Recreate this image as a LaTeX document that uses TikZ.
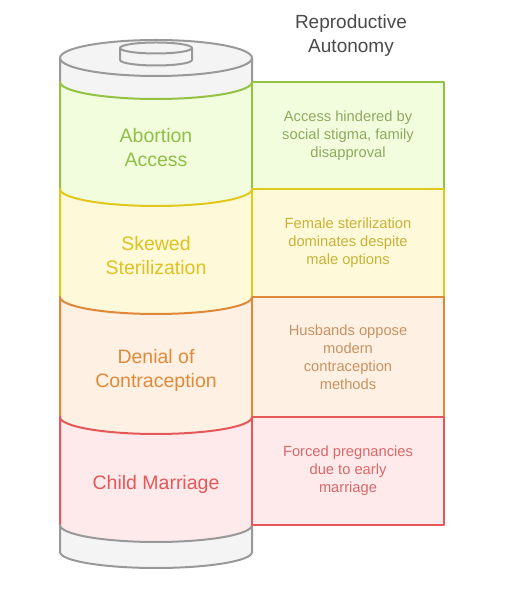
\documentclass[tikz,border=0pt]{standalone}
\usepackage{fontspec}
\setmainfont{Liberation Sans}
\definecolor{gS}{HTML}{94C244}\definecolor{gF}{HTML}{F2FDDE}\definecolor{gT}{HTML}{90BF45}\definecolor{gB}{HTML}{8EAA5D}
\definecolor{yS}{HTML}{E0C81C}\definecolor{yF}{HTML}{FEF9D8}\definecolor{yT}{HTML}{DCC222}\definecolor{yB}{HTML}{C9B23A}
\definecolor{oS}{HTML}{E0883A}\definecolor{oF}{HTML}{FEF0E2}\definecolor{oT}{HTML}{E08A3C}\definecolor{oB}{HTML}{C99262}
\definecolor{rS}{HTML}{E6575A}\definecolor{rF}{HTML}{FEEAEA}\definecolor{rT}{HTML}{E4585B}\definecolor{rB}{HTML}{D8686A}
\definecolor{cS}{HTML}{999999}\definecolor{cF}{HTML}{F4F4F4}\definecolor{tT}{HTML}{4A4A4A}
\begin{document}
\begin{tikzpicture}[x=1pt,y=1pt,line width=2pt,line join=round,
  lbl/.style={align=center,font=\fontsize{19.5}{24}\selectfont},
  btxt/.style={align=center,font=\fontsize{14.7}{18}\selectfont}]
\useasboundingbox (0,0) rectangle (504,593);
% top cap
\fill[cF] (60,535) -- (60,511) arc(180:360:96 and 17) -- (252,535) arc(0:180:96 and 18) -- cycle;
\draw[cS] (60,511) -- (60,535) arc(180:540:96 and 18) (252,535) -- (252,511);
% terminal
\fill[cF] (120,545) -- (120,533) arc(180:360:36 and 5.5) -- (192,545) arc(0:180:36 and 5.5) -- cycle;
\draw[cS] (120,533) -- (120,545) arc(180:540:36 and 5.5) (192,545) -- (192,533) arc(360:180:36 and 5.5);
% layers
\foreach \yt/\yb/\fc/\sc in {511/404/gF/gS,404/296/yF/yS,296/176/oF/oS,176/68/rF/rS}{
  \fill[\fc] (60,\yt) arc(180:360:96 and 17) -- (252,\yb) arc(360:180:96 and 17) -- cycle;
  \draw[\sc] (60,\yb) -- (60,\yt) arc(180:360:96 and 17) -- (252,\yb);
}
% bottom cap
\fill[cF] (60,68) arc(180:360:96 and 17) -- (252,41) arc(360:180:96 and 16) -- cycle;
\draw[cS] (60,68) arc(180:360:96 and 17) -- (252,41) arc(360:180:96 and 16) -- cycle;
% labels
\node[lbl,text=gT] (la) at (156,445) {Abortion\\Access};
\node[lbl,text=yT] (ls) at (156,337) {Skewed\\Sterilization};
\node[lbl,text=oT] (ld) at (156,223) {Denial of\\Contraception};
\node[lbl,text=rT] (lc) at (156,109) {Child Marriage};
% boxes
\draw[gS,fill=gF] (252,511) rectangle (444,404);
\draw[yS,fill=yF] (252,404) rectangle (444,296);
\draw[oS,fill=oF] (252,296) rectangle (444,176);
\draw[rS,fill=rF] (252,176) rectangle (444,68);
\node[btxt,text=gB] (ba) at (348,457.5) {Access hindered by\\social stigma, family\\disapproval};
\node[btxt,text=yB] (bs) at (348,350) {Female sterilization\\dominates despite\\male options};
\node[btxt,text=oB] (bd) at (348,236) {Husbands oppose\\modern\\contraception\\methods};
\node[btxt,text=rB] (bc) at (348,122) {Forced pregnancies\\due to early\\marriage};
% title
\node[align=center,text=tT,font=\fontsize{19}{24}\selectfont] (title) at (351,557) {Reproductive\\Autonomy};
\end{tikzpicture}
\end{document}
